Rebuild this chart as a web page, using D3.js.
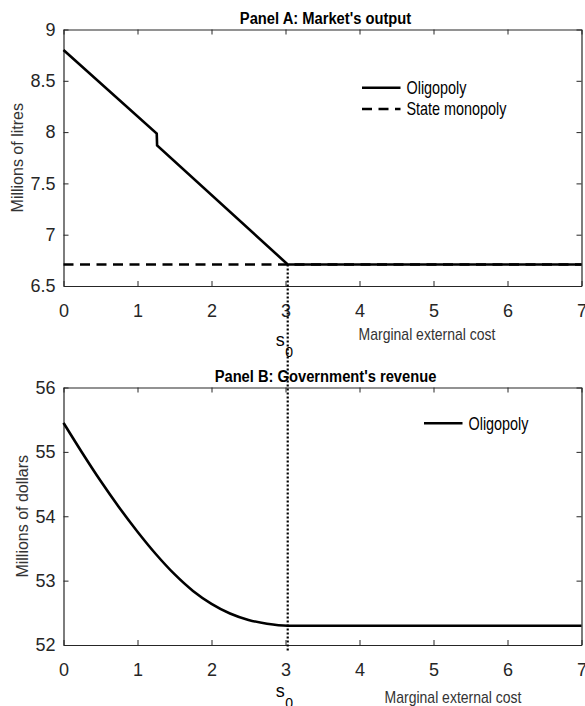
<!DOCTYPE html>
<html>
<head>
<meta charset="utf-8">
<script src="https://cdn.jsdelivr.net/npm/d3@7"></script>
<style>
  body { margin: 0; background: #fff; }
  svg { display: block; font-family: "Liberation Sans", Arial, sans-serif; }
</style>
</head>
<body>
<div id="chart-container"></div>
<script>
// marginal external cost (x) shared by both panels
const xTicks = [0, 1, 2, 3, 4, 5, 6, 7];
const s0 = 3.03;

// Panel A: market's output, millions of litres
const costA = [0, 1.26, 1.265, 3.03, 7];
const outputOligopoly = [8.8, 7.985, 7.87, 6.71, 6.71];
const costMonopoly = [0, 7];
const outputMonopoly = [6.71, 6.71];
const yTicksA = [6.5, 7, 7.5, 8, 8.5, 9];

// Panel B: government's revenue, millions of dollars
const costB = [0, 0.25, 0.5, 0.75, 1, 1.25, 1.5, 1.75, 2, 2.25, 2.5, 2.75, 3.03, 7];
const revenueOligopoly = [55.45, 54.99, 54.55, 54.14, 53.76, 53.41, 53.1, 52.84, 52.64, 52.49, 52.39, 52.33, 52.3, 52.3];
const yTicksB = [52, 53, 54, 55, 56];

const w = 585;
const h = 706;
const left = 63.5;
const right = 581.5;

const svg = d3
  .select("#chart-container")
  .append("svg")
  .attr("width", w)
  .attr("height", h);

const xScale = d3.scaleLinear().domain([0, 7]).range([left, right]);

// text squeezed sideways to look like the narrow helvetica of the original
function narrowText(x, y, txt, size, sx, opts = {}) {
  return svg
    .append("text")
    .attr("transform", "translate(" + x + "," + y + ") scale(" + sx + ",1)")
    .attr("font-size", size)
    .attr("font-weight", opts.bold ? "bold" : null)
    .attr("text-anchor", opts.anchor || "start")
    .attr("dy", opts.dy || null)
    .attr("fill", opts.fill || "#000")
    .text(txt);
}

function panel(cfg) {
  const yScale = d3.scaleLinear().domain(cfg.yDomain).range([cfg.bottom, cfg.top]);
  const g = svg.append("g").attr("color", "#262626");

  // box axes, MATLAB style ticks inside
  g.append("g")
    .attr("transform", "translate(0," + cfg.bottom + ")")
    .call(d3.axisBottom(xScale).tickValues(xTicks).tickSizeInner(-5).tickSizeOuter(0).tickPadding(18).tickFormat(d3.format("d")))
    .call((a) => a.selectAll("text").attr("font-size", 18).attr("fill", "#262626"));
  g.append("g")
    .attr("transform", "translate(0," + cfg.top + ")")
    .call(d3.axisTop(xScale).tickValues(xTicks).tickSizeInner(-5).tickSizeOuter(0).tickFormat(""));
  g.append("g")
    .attr("transform", "translate(" + left + ",0)")
    .call(d3.axisLeft(yScale).tickValues(cfg.yTicks).tickSizeInner(-5).tickSizeOuter(0).tickPadding(8).tickFormat(d3.format("")))
    .call((a) => a.selectAll("text").attr("font-size", 18).attr("fill", "#262626"));
  g.append("g")
    .attr("transform", "translate(" + right + ",0)")
    .call(d3.axisRight(yScale).tickValues(cfg.yTicks).tickSizeInner(-5).tickSizeOuter(0).tickFormat(""));
  g.selectAll(".domain").attr("stroke-width", 1.2);

  const line = d3
    .line()
    .x((d) => xScale(d[0]))
    .y((d) => yScale(d[1]))
    .curve(cfg.curve || d3.curveLinear);

  cfg.series.forEach((s) => {
    svg
      .append("path")
      .datum(d3.zip(s.x, s.y))
      .attr("d", line)
      .attr("fill", "none")
      .attr("stroke", "#000")
      .attr("stroke-width", 2.6)
      .attr("stroke-dasharray", s.dash || null);
  });

  // title
  narrowText((left + right) / 2 + 3, cfg.top - 6, cfg.title, 16, 0.92, { bold: true, anchor: "middle" });

  // y label
  svg
    .append("text")
    .attr("transform", "translate(" + cfg.yLabelX + "," + (cfg.top + cfg.bottom) / 2 + ") rotate(-90)")
    .attr("text-anchor", "middle")
    .attr("dy", "0.35em")
    .attr("font-size", 16)
    .attr("fill", "#333")
    .text(cfg.yLabel);

  // x label
  narrowText(cfg.xLabelX, cfg.xLabelY, "Marginal external cost", 16, 0.875, { anchor: "middle", fill: "#333" });

  // legend
  cfg.legend.forEach((l, i) => {
    const ly = cfg.legendY + i * 21.3;
    svg
      .append("line")
      .attr("x1", cfg.legendX)
      .attr("x2", cfg.legendX + 38.5)
      .attr("y1", ly)
      .attr("y2", ly)
      .attr("stroke", "#000")
      .attr("stroke-width", 2.6)
      .attr("stroke-dasharray", l.dash || null);
    narrowText(cfg.legendX + 44.5, ly, l.name, 18, 0.8, { dy: "0.35em" });
  });

  // s0 label under the axis
  const sx = xScale(s0);
  svg.append("text").attr("x", sx - 12).attr("y", cfg.sY).attr("font-size", 18).attr("fill", "#000").text("s");
  svg.append("text").attr("x", sx - 2.5).attr("y", cfg.sY + 11).attr("font-size", 14).attr("fill", "#000").text("0");

  return yScale;
}

const yA = panel({
  top: 29.5,
  bottom: 286,
  yDomain: [6.5, 9],
  yTicks: yTicksA,
  title: "Panel A: Market's output",
  yLabel: "Millions of litres",
  yLabelX: 17.5,
  xLabelX: 427,
  xLabelY: 340,
  legendX: 362,
  legendY: 87.7,
  sY: 346,
  series: [
    { x: costMonopoly, y: outputMonopoly, dash: "10,6.5" },
    { x: costA, y: outputOligopoly },
  ],
  legend: [{ name: "Oligopoly" }, { name: "State monopoly", dash: "10,6.5" }],
});

const yB = panel({
  top: 387.5,
  bottom: 645,
  yDomain: [52, 56],
  yTicks: yTicksB,
  title: "Panel B: Government's revenue",
  yLabel: "Millions of dollars",
  yLabelX: 22.5,
  xLabelX: 453,
  xLabelY: 703,
  legendX: 424,
  legendY: 423.3,
  sY: 697,
  curve: d3.curveMonotoneX,
  series: [{ x: costB, y: revenueOligopoly }],
  legend: [{ name: "Oligopoly" }],
});

// dotted marker at s0 running through both panels
svg
  .append("line")
  .attr("x1", xScale(s0))
  .attr("x2", xScale(s0))
  .attr("y1", yA(outputMonopoly[0]))
  .attr("y2", yB(52) + 6)
  .attr("stroke", "#000")
  .attr("stroke-width", 2.2)
  .attr("stroke-dasharray", "2,2");
</script>
</body>
</html>
